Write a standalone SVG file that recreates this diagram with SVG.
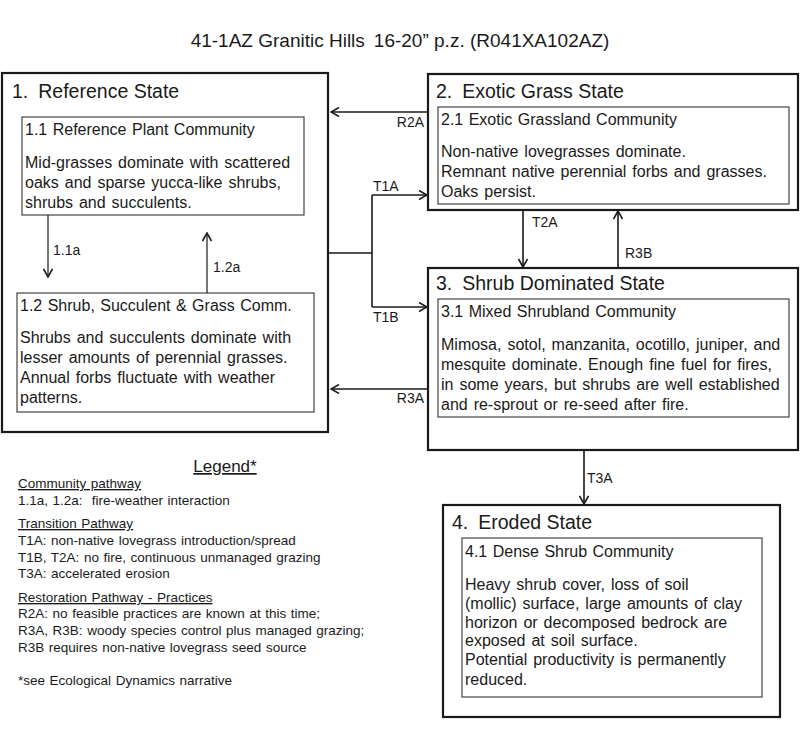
<svg xmlns="http://www.w3.org/2000/svg" width="800" height="749" viewBox="0 0 800 749">
<defs>
<marker id="arr" viewBox="0 0 10 10" refX="9" refY="5" markerWidth="10" markerHeight="10" markerUnits="userSpaceOnUse" orient="auto">
<path d="M1,0.5 L9,5 L1,9.5" fill="none" stroke="#1a1a1a" stroke-width="1.6"/>
</marker>
</defs>
<style>
text{font-family:"Liberation Sans",Arial,sans-serif;fill:#1a1a1a;white-space:pre}
.state{fill:#fff;stroke:#1a1a1a;stroke-width:2.2}
.comm{fill:#fff;stroke:#444;stroke-width:1.2}
.st{font-size:19.5px}
.ct{font-size:16px;word-spacing:1px}
.body{font-size:16px;word-spacing:1.5px}
.lbl{font-size:14px}
.lg{font-size:13.5px;word-spacing:0.8px}
.u{text-decoration:underline}
.c{fill:none;stroke:#1a1a1a;stroke-width:1.6}
.cm{fill:none;stroke:#1a1a1a;stroke-width:1.2}
</style>
<rect width="800" height="749" fill="#fff"/>
<text x="400" y="47" text-anchor="middle" font-size="19">41-1AZ Granitic Hills<tspan dx="9">16-20” p.z. (R041XA102AZ)</tspan></text>

<g id="state1">
<rect class="state" x="2" y="73" width="326" height="359"/>
<text class="st" x="12" y="98">1.<tspan dx="10">Reference State</tspan></text>
</g>
<g id="comm11">
<rect class="comm" x="22" y="117" width="282" height="98"/>
<text class="ct" x="25" y="135">1.1 Reference Plant Community</text>
<text class="body" x="25" y="168">Mid-grasses dominate with scattered</text>
<text class="body" x="25" y="188">oaks and sparse yucca-like shrubs,</text>
<text class="body" x="25" y="208">shrubs and succulents.</text>
</g>
<g id="comm12">
<rect class="comm" x="17" y="293" width="297" height="119"/>
<text class="ct" x="20" y="311">1.2 Shrub, Succulent &amp; Grass Comm.</text>
<text class="body" x="20" y="343">Shrubs and succulents dominate with</text>
<text class="body" x="20" y="363">lesser amounts of perennial grasses.</text>
<text class="body" x="20" y="383">Annual forbs fluctuate with weather</text>
<text class="body" x="20" y="403">patterns.</text>
</g>

<g id="state2">
<rect class="state" x="428" y="74" width="370" height="136"/>
<text class="st" x="436" y="98">2.<tspan dx="10">Exotic Grass State</tspan></text>
</g>
<g id="comm21">
<rect class="comm" x="438" y="107" width="351" height="97"/>
<text class="ct" x="441" y="125">2.1 Exotic Grassland Community</text>
<text class="body" x="441" y="157">Non-native lovegrasses dominate.</text>
<text class="body" x="441" y="177">Remnant native perennial forbs and grasses.</text>
<text class="body" x="441" y="197">Oaks persist.</text>
</g>

<g id="state3">
<rect class="state" x="428" y="268" width="370" height="182"/>
<text class="st" x="436" y="290">3.<tspan dx="10">Shrub Dominated State</tspan></text>
</g>
<g id="comm31">
<rect class="comm" x="438" y="299" width="351" height="118"/>
<text class="ct" x="441" y="317">3.1 Mixed Shrubland Community</text>
<text class="body" x="441" y="350">Mimosa, sotol, manzanita, ocotillo, juniper, and</text>
<text class="body" x="441" y="370">mesquite dominate. Enough fine fuel for fires,</text>
<text class="body" x="441" y="390">in some years, but shrubs are well established</text>
<text class="body" x="441" y="410">and re-sprout or re-seed after fire.</text>
</g>

<g id="state4">
<rect class="state" x="443" y="505" width="337" height="212"/>
<text class="st" x="452" y="529">4.<tspan dx="10">Eroded State</tspan></text>
</g>
<g id="comm41">
<rect class="comm" x="462" y="538" width="300" height="159"/>
<text class="ct" x="465" y="557">4.1 Dense Shrub Community</text>
<text class="body" x="465" y="590">Heavy shrub cover, loss of soil</text>
<text class="body" x="465" y="609">(mollic) surface, large amounts of clay</text>
<text class="body" x="465" y="628">horizon or decomposed bedrock are</text>
<text class="body" x="465" y="646">exposed at soil surface.</text>
<text class="body" x="465" y="665">Potential productivity is permanently</text>
<text class="body" x="465" y="685">reduced.</text>
</g>

<g id="connectors">
<line class="cm" x1="48" y1="215" x2="48" y2="277" marker-end="url(#arr)"/>
<line class="cm" x1="207" y1="293" x2="207" y2="233" marker-end="url(#arr)"/>
<text class="lbl" x="53" y="255">1.1a</text>
<text class="lbl" x="213" y="272">1.2a</text>

<line class="c" x1="428" y1="112" x2="331" y2="112" marker-end="url(#arr)"/>
<text class="lbl" x="424" y="127" text-anchor="end">R2A</text>

<path class="c" d="M328,253 H372 M372,195 V307"/>
<line class="c" x1="372" y1="195" x2="427" y2="195" marker-end="url(#arr)"/>
<line class="c" x1="372" y1="307" x2="427" y2="307" marker-end="url(#arr)"/>
<text class="lbl" x="373" y="191">T1A</text>
<text class="lbl" x="373" y="322">T1B</text>

<line class="c" x1="523" y1="210" x2="523" y2="267" marker-end="url(#arr)"/>
<text class="lbl" x="532" y="227">T2A</text>
<line class="c" x1="618" y1="268" x2="618" y2="211" marker-end="url(#arr)"/>
<text class="lbl" x="625" y="258">R3B</text>

<line class="c" x1="428" y1="389" x2="331" y2="389" marker-end="url(#arr)"/>
<text class="lbl" x="424" y="403" text-anchor="end">R3A</text>

<line class="c" x1="584" y1="450" x2="584" y2="504" marker-end="url(#arr)"/>
<text class="lbl" x="587" y="483">T3A</text>
</g>

<g id="legend">
<text x="225" y="472" text-anchor="middle" font-size="17" class="u">Legend*</text>
<text class="lg u" x="18" y="488">Community pathway</text>
<text class="lg" x="18" y="505">1.1a, 1.2a:  fire-weather interaction</text>
<text class="lg u" x="18" y="528">Transition Pathway</text>
<text class="lg" x="18" y="545">T1A: non-native lovegrass introduction/spread</text>
<text class="lg" x="18" y="562">T1B, T2A: no fire, continuous unmanaged grazing</text>
<text class="lg" x="18" y="578">T3A: accelerated erosion</text>
<text class="lg u" x="18" y="602">Restoration Pathway - Practices</text>
<text class="lg" x="18" y="618">R2A: no feasible practices are known at this time;</text>
<text class="lg" x="18" y="635">R3A, R3B: woody species control plus managed grazing;</text>
<text class="lg" x="18" y="652">R3B requires non-native lovegrass seed source</text>
<text class="lg" x="18" y="685">*see Ecological Dynamics narrative</text>
</g>
</svg>
